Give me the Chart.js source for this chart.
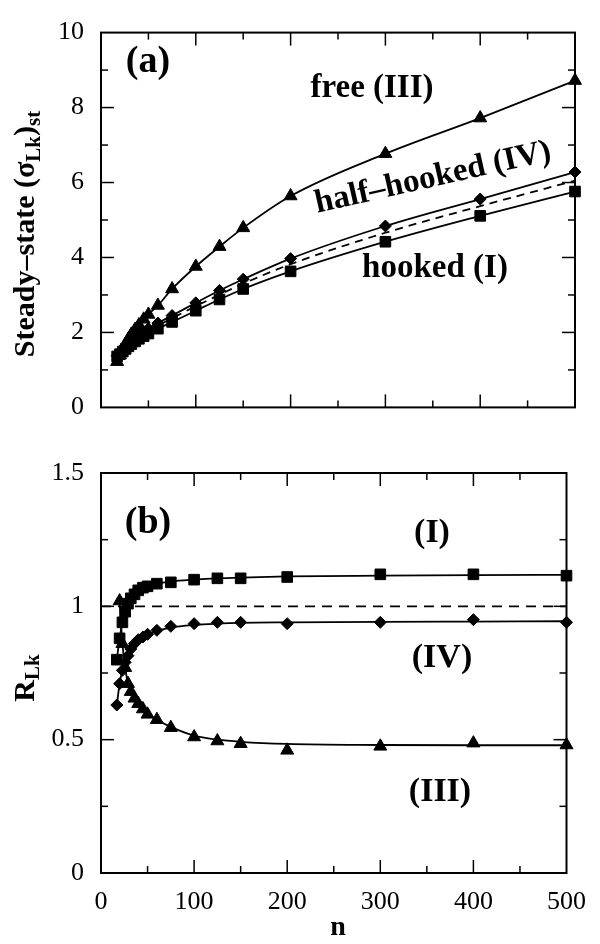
<!DOCTYPE html>
<html><head><meta charset="utf-8">
<script src="https://cdn.jsdelivr.net/npm/chart.js@4.4.0/dist/chart.umd.min.js"></script>
<style>
html,body{margin:0;padding:0;background:#fff;}
#wrap{position:relative;width:600px;height:944px;overflow:hidden;}
#c1{position:absolute;left:0;top:0;}
#c2{position:absolute;left:0;top:440px;}
</style></head><body>
<div id="wrap">
<canvas id="c1" width="600" height="440"></canvas>
<canvas id="c2" width="600" height="504"></canvas>
</div>
<script>
// ---------- data ----------
const nValues = [17, 20, 23, 26, 29, 32, 36, 40, 45, 50, 60, 75, 100, 125, 150, 200, 300, 400, 500];

// panel (a): steady-state (sigma_Lk)_st
const sigmaFree       = [1.22, 1.40, 1.55, 1.70, 1.83, 1.95, 2.08, 2.20, 2.35, 2.48, 2.72, 3.16, 3.76, 4.29, 4.79, 5.64, 6.77, 7.72, 8.72];
const sigmaHalfHooked = [1.38, 1.47, 1.56, 1.64, 1.72, 1.80, 1.88, 1.95, 2.03, 2.10, 2.25, 2.45, 2.79, 3.12, 3.42, 3.97, 4.84, 5.56, 6.28];
const sigmaHooked     = [1.36, 1.42, 1.49, 1.56, 1.63, 1.69, 1.76, 1.83, 1.90, 1.97, 2.10, 2.28, 2.58, 2.88, 3.16, 3.63, 4.42, 5.11, 5.76];
const dashedN         = [17, 30, 50, 75, 100, 150, 200, 300, 400, 500];
const sigmaDashed     = [1.36, 1.72, 2.04, 2.38, 2.70, 3.30, 3.82, 4.66, 5.37, 6.05];

// panel (b): R_Lk (markers)
const ratioHooked     = [0.80, 0.88, 0.94, 0.98, 1.01, 1.03, 1.045, 1.06, 1.07, 1.075, 1.085, 1.09, 1.10, 1.105, 1.105, 1.11, 1.12, 1.12, 1.115];
const ratioHalfHooked = [0.63, 0.71, 0.76, 0.79, 0.815, 0.84, 0.86, 0.875, 0.885, 0.895, 0.91, 0.925, 0.935, 0.94, 0.94, 0.935, 0.94, 0.95, 0.94];
const ratioFree       = [null, 1.02, 0.86, 0.77, 0.71, 0.68, 0.655, 0.635, 0.615, 0.595, 0.575, 0.545, 0.51, 0.495, 0.485, 0.46, 0.475, 0.487, 0.48];
// panel (b): fitted curves
const fitHooked       = [0.80, 0.88, 0.94, 0.98, 1.01, 1.03, 1.045, 1.058, 1.068, 1.075, 1.085, 1.093, 1.10, 1.105, 1.108, 1.112, 1.115, 1.117, 1.118];
const fitHalfHooked   = [0.63, 0.71, 0.76, 0.79, 0.815, 0.84, 0.86, 0.873, 0.884, 0.893, 0.907, 0.92, 0.93, 0.935, 0.938, 0.94, 0.942, 0.943, 0.944];
const fitFree         = [null, 1.02, 0.86, 0.77, 0.71, 0.68, 0.655, 0.635, 0.615, 0.597, 0.575, 0.548, 0.515, 0.50, 0.492, 0.484, 0.48, 0.479, 0.479];
const refLineN        = [0, 500];
const refLineR        = [1, 1];

// ticks
const xTickLabels = [0, 100, 200, 300, 400, 500];
const topYTicks   = [0, 2, 4, 6, 8, 10];
const botYTicks   = [0, 0.5, 1, 1.5];

// ---------- helpers ----------
const pts = (xs, ys) => xs.map((x, i) => ({x, y: ys[i]})).filter(p => p.y !== null);
const SERIF = "'Liberation Serif', 'Times New Roman', serif";
Chart.defaults.font.family = SERIF;
Chart.defaults.font.size = 26;
Chart.defaults.color = '#000';

function markerSet(data, style, radius, showLine) {
  return {data, showLine: !!showLine, pointStyle: style, pointRadius: radius, pointHoverRadius: radius,
    backgroundColor: '#000', borderColor: '#000', borderWidth: 1.8, pointBorderWidth: 1,
    cubicInterpolationMode: 'monotone', clip: false};
}
function lineSet(data, dash) {
  return {data, showLine: true, pointRadius: 0, borderColor: '#000', borderWidth: 1.8,
    borderDash: dash || [], cubicInterpolationMode: 'monotone', clip: false};
}

function framePlugin(opts) {
  return {
    id: 'frame_' + opts.name,
    afterDraw(chart) {
      const {ctx, chartArea: a, scales: {x, y}} = chart;
      ctx.save();
      ctx.strokeStyle = '#000';
      ctx.lineCap = 'butt';
      ctx.lineWidth = 1.5;
      const seg = (x1, y1, x2, y2) => { ctx.beginPath(); ctx.moveTo(x1, y1); ctx.lineTo(x2, y2); ctx.stroke(); };
      for (let v = 0; v <= 500 + 1e-9; v += 50) {
        const px = x.getPixelForValue(v);
        const L = (Math.round(v) % 100 === 0) ? 13 : 7;
        if (v > 0 && v < 500) { seg(px, a.bottom, px, a.bottom - L); seg(px, a.top, px, a.top + L); }
      }
      for (let v = opts.yMin; v <= opts.yMax + 1e-9; v += opts.yMinor) {
        const py = y.getPixelForValue(v);
        const major = Math.abs(v / opts.yMajor - Math.round(v / opts.yMajor)) < 1e-6;
        const L = major ? 13 : 7;
        if (v > opts.yMin + 1e-9 && v < opts.yMax - 1e-9) { seg(a.left, py, a.left + L, py); seg(a.right, py, a.right - L, py); }
      }
      ctx.lineWidth = 2;
      ctx.strokeRect(a.left, a.top, a.right - a.left, a.bottom - a.top);
      ctx.fillStyle = '#000';
      opts.texts(ctx, chart);
      ctx.restore();
    }
  };
}

function subText(ctx, parts, cx, baseY, rotate) {
  ctx.save();
  ctx.translate(cx, baseY);
  if (rotate) ctx.rotate(rotate);
  let total = 0;
  parts.forEach(p => { ctx.font = 'bold ' + p[1] + 'px ' + SERIF; total += ctx.measureText(p[0]).width; });
  let xx = -total / 2;
  ctx.textBaseline = 'alphabetic';
  ctx.textAlign = 'left';
  parts.forEach(p => { ctx.font = 'bold ' + p[1] + 'px ' + SERIF; ctx.fillText(p[0], xx, p[2]); xx += ctx.measureText(p[0]).width; });
  ctx.restore();
}
function label(ctx, txt, x, y, size, rot) {
  ctx.save();
  ctx.translate(x, y);
  if (rot) ctx.rotate(rot);
  ctx.font = 'bold ' + size + 'px ' + SERIF;
  ctx.textAlign = 'center';
  ctx.textBaseline = 'middle';
  ctx.fillText(txt, 0, 0);
  ctx.restore();
}

function scalesFor(yMin, yMax, yTicks, showX, xHeight) {
  const f = {family: SERIF, size: 26};
  return {
    x: {type: 'linear', min: 0, max: 500,
      afterBuildTicks: s => { s.ticks = xTickLabels.map(v => ({value: v})); },
      afterFit: s => { s.height = xHeight; },
      grid: {display: false, drawTicks: false}, border: {display: false},
      ticks: {display: showX, font: f, color: '#000', padding: 14, maxRotation: 0, autoSkip: false,
        callback: v => String(v)}},
    y: {type: 'linear', min: yMin, max: yMax,
      afterBuildTicks: s => { s.ticks = yTicks.map(v => ({value: v})); },
      afterFit: s => { s.width = 101; },
      grid: {display: false, drawTicks: false}, border: {display: false},
      ticks: {font: f, color: '#000', padding: 17, autoSkip: false, callback: v => String(v)}}
  };
}
const common = {responsive: false, animation: false, devicePixelRatio: 1,
  plugins: {legend: {display: false}, tooltip: {enabled: false}}, events: []};

// ---------- panel (a) ----------
new Chart(document.getElementById('c1'), {
  type: 'scatter',
  data: {datasets: [
    markerSet(pts(nValues, sigmaFree), 'triangle', 7.5, true),
    markerSet(pts(nValues, sigmaHalfHooked), 'rectRot', 6, true),
    markerSet(pts(nValues, sigmaHooked), 'rect', 7.5, true),
    lineSet(pts(dashedN, sigmaDashed), [8, 6])
  ]},
  options: Object.assign({}, common, {
    layout: {padding: {left: 0, right: 25, top: 14, bottom: 0}},
    scales: scalesFor(0, 10, topYTicks, false, 27)
  }),
  plugins: [framePlugin({name: 'a', yMin: 0, yMax: 10, yMinor: 1, yMajor: 2, texts: (ctx) => {
    label(ctx, '(a)', 148, 62, 38);
    label(ctx, 'free (III)', 372, 88, 33);
    label(ctx, 'half–hooked (IV)', 433, 178, 33, -12.7 * Math.PI / 180);
    label(ctx, 'hooked (I)', 435, 268, 33);
    ctx.save();
    ctx.translate(34, 234);
    subText(ctx, [['Steady–state (σ', 30, 0], ['Lk', 21, 6], [')', 30, 0], ['st', 21, 6]], 0, 0, -Math.PI / 2);
    ctx.restore();
  }})]
});

// ---------- panel (b) ----------
new Chart(document.getElementById('c2'), {
  type: 'scatter',
  data: {datasets: [
    markerSet(pts(nValues, ratioHooked), 'rect', 7.5, false),
    markerSet(pts(nValues, ratioHalfHooked), 'rectRot', 6, false),
    markerSet(pts(nValues, ratioFree), 'triangle', 7.5, false),
    lineSet(pts(nValues, fitHooked)),
    lineSet(pts(nValues, fitHalfHooked)),
    lineSet(pts(nValues, fitFree)),
    lineSet(pts(refLineN, refLineR), [10, 7])
  ]},
  options: Object.assign({}, common, {
    layout: {padding: {left: 0, right: 25, top: 33, bottom: 0}},
    scales: scalesFor(0, 1.5, botYTicks, true, 71)
  }),
  plugins: [framePlugin({name: 'b', yMin: 0, yMax: 1.5, yMinor: 0.25, yMajor: 0.5, texts: (ctx) => {
    label(ctx, '(b)', 148, 83, 38);
    label(ctx, '(I)', 432, 93, 34);
    label(ctx, '(IV)', 442, 218, 34);
    label(ctx, '(III)', 440, 352, 34);
    label(ctx, 'n', 338, 488, 28);
    ctx.save();
    ctx.translate(34, 238);
    subText(ctx, [['R', 30, 0], ['Lk', 21, 5]], 0, 0, -Math.PI / 2);
    ctx.restore();
  }})]
});
</script>
</body></html>
